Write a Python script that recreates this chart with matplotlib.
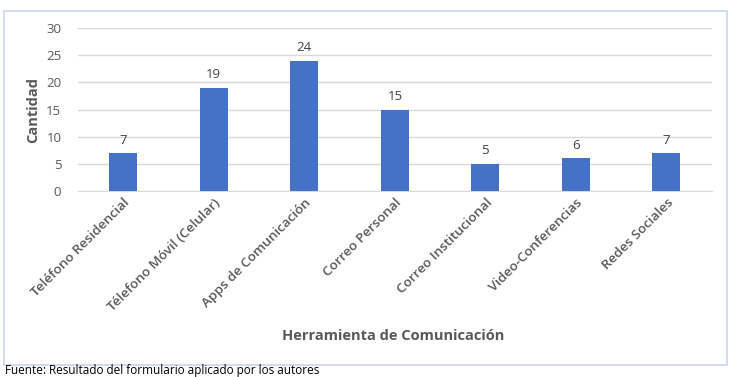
import matplotlib.pyplot as plt
from matplotlib.patches import Rectangle

# --- DATA ---
categorias = ['Teléfono Residencial', 'Télefono Móvil (Celular)', 'Apps de Comunicación',
              'Correo Personal', 'Correo Institucional', 'Video-Conferencias', 'Redes Sociales']
cantidades = [7, 19, 24, 15, 5, 6, 7]
y_ticks = [0, 5, 10, 15, 20, 25, 30]

plt.rcParams['font.family'] = ['Open Sans', 'DejaVu Sans']

fig = plt.figure(figsize=(7.36, 3.77), dpi=100)
ax = fig.add_axes([0.106, 0.493, 0.861, 0.433])

# chart frame
fig.patches.append(Rectangle((0.005, 0.032), 0.983, 0.94, transform=fig.transFigure,
                             fill=False, edgecolor='#C9D6EC', linewidth=1.2))

x = range(len(categorias))
bars = ax.bar(x, cantidades, width=0.31, color='#4472C4', zorder=3)
for b, v in zip(bars, cantidades):
    ax.text(b.get_x() + b.get_width() / 2, v + 1.2, str(v), ha='center', va='bottom',
            fontsize=9.5, color='#404040')

ax.set_xlim(-0.5, 6.5)
ax.set_ylim(0, 30)
ax.set_yticks(y_ticks)
ax.yaxis.grid(True, color='#D9D9D9', linewidth=1, zorder=0)
for s in ['top', 'right', 'left']:
    ax.spines[s].set_visible(False)
ax.spines['bottom'].set_color('#D9D9D9')
ax.tick_params(axis='both', length=0, colors='#595959', labelsize=9.5)
ax.tick_params(axis='y', pad=12)
ax.set_xticks(list(x))
ax.set_xticklabels(categorias, rotation=45, ha='right', rotation_mode='anchor',
                   fontsize=9.7, fontweight='semibold', color='#595959')

ax.set_ylabel('Cantidad', fontsize=10.5, fontweight='bold', color='#595959', labelpad=4)
fig.text(0.534, 0.108, 'Herramienta de Comunicación', ha='center', va='center',
         fontsize=10.5, fontweight='bold', color='#595959')

# source note sits just under the frame
fig.text(0.007, 0.0, 'Fuente: Resultado del formulario aplicado por los autores',
         ha='left', va='bottom', fontsize=8.5, color='black')

fig.savefig('out.png', dpi=100)
